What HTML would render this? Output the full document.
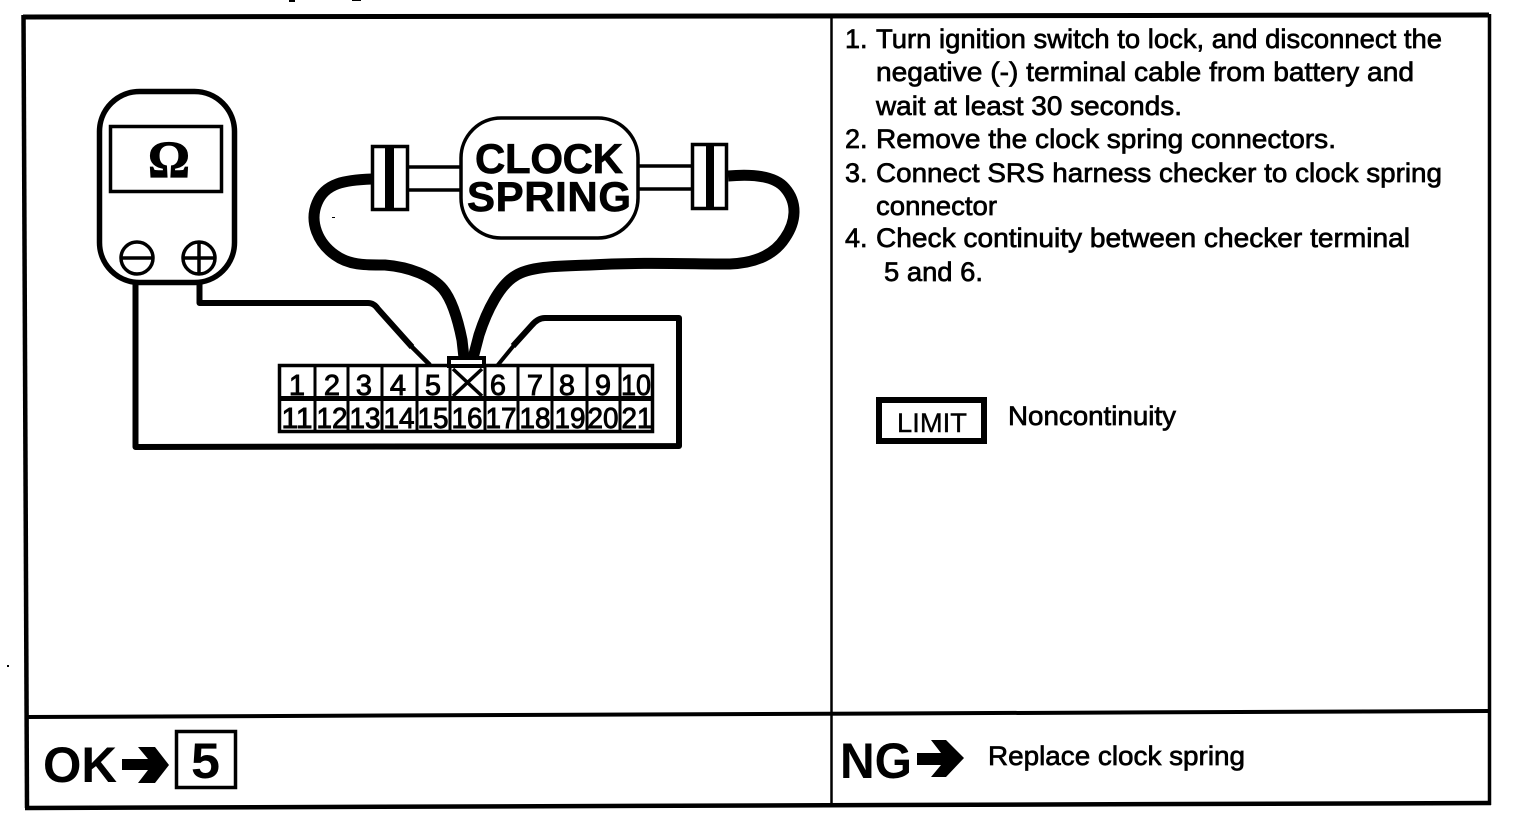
<!DOCTYPE html>
<html>
<head>
<meta charset="utf-8">
<style>
html,body{margin:0;padding:0;background:#fff;width:1536px;height:838px;overflow:hidden}
svg{display:block}
text{font-family:"Liberation Sans",sans-serif;fill:#000}
.t{font-size:27px;stroke:#000;stroke-width:.7px}
.d{font-size:29px;stroke:#000;stroke-width:.9px;text-anchor:middle}
.b{font-size:50px;font-weight:bold}
.c{font-size:42px;font-weight:bold;stroke:#000;stroke-width:.7px}
</style>
</head>
<body>
<svg width="1536" height="838" viewBox="0 0 1536 838" xmlns="http://www.w3.org/2000/svg">
<rect width="1536" height="838" fill="#fff"/>
<!-- frame -->
<g fill="none" stroke="#000">
<path d="M23 17 L1489 15" stroke-width="5"/>
<path d="M23.500 15 L27 808" stroke-width="4.500"/>
<path d="M1489.500 14 L1489.500 805" stroke-width="3.500"/>
<path d="M25 808 L1491 803" stroke-width="4.500"/>
<path d="M27 717 L1489 711" stroke-width="4"/>
<path d="M831.500 16 L831.500 806" stroke-width="2.500"/>
</g>
<!-- meter -->
<rect x="99.500" y="91.500" width="135" height="191" rx="40" ry="40" fill="none" stroke="#000" stroke-width="5.500"/>
<rect x="110.500" y="126.500" width="111" height="65" fill="none" stroke="#000" stroke-width="3.500"/>
<text x="169" y="177" font-size="52" text-anchor="middle" font-weight="bold" stroke="#000" stroke-width="1.200" style="font-family:'Liberation Serif',serif">Ω</text>
<g fill="none" stroke="#000" stroke-width="3.500">
<circle cx="137" cy="258" r="16"/>
<circle cx="199" cy="258" r="16"/>
<path d="M121 258H153M183 258H215M199 242V274"/>
</g>
<!-- thin wires -->
<g fill="none" stroke="#000" stroke-linejoin="round">
<path d="M135.500 283 L135.500 447 L679 446 L679 318 L545 318 Q538 318 532 325 L513 346" stroke-width="6"/>
<path d="M515 344 L497 366" stroke-width="4"/>
<path d="M199.500 283 L199.500 303 L368 303 Q374 303 378 309 L412 347" stroke-width="6"/>
<path d="M410 345 L430 365" stroke-width="4.500"/>
</g>
<!-- thick wires -->
<g fill="none" stroke="#000">
<path d="M372 179 C345 180 325 183 317 203 C309 222 318 243 335 255 C350 266 368 265 385 265 C410 267 432 276 443 289 C452 300 458 320 462 340 L464 358" stroke-width="11"/>
<path d="M728 176 C750 174 774 175 785 188 C798 203 796 222 785 238 C774 255 755 263 730 264 C690 264 640 262 590 265 C560 266 530 266 515 276 C500 285 487 310 479 335 L473 358" stroke-width="11"/>
</g>
<!-- terminal block -->
<g fill="none" stroke="#000">
<rect x="279.500" y="365.500" width="373" height="66" stroke-width="3.500"/>
<path d="M279 398.500H653" stroke-width="5"/>
<path d="M315 365V432M348 365V432M382 365V432M417 365V432M450 365V432M485 365V432M518 365V432M552 365V432M587 365V432M620 365V432" stroke-width="3"/>
<rect x="449" y="358" width="35" height="8" fill="#fff" stroke-width="4"/>
<path d="M453 369L482 396M482 369L453 396" stroke-width="3.500"/>
</g>
<g class="row">
<text class="d" x="297" y="395">1</text>
<text class="d" x="332" y="395">2</text>
<text class="d" x="364" y="395">3</text>
<text class="d" x="398" y="395">4</text>
<text class="d" x="433" y="395">5</text>
<text class="d" x="498" y="395">6</text>
<text class="d" x="535" y="395">7</text>
<text class="d" x="567" y="395">8</text>
<text class="d" x="603" y="395">9</text>
<text class="d" x="636" y="395" textLength="30" lengthAdjust="spacingAndGlyphs">10</text>
<text class="d" x="297" y="428" textLength="31" lengthAdjust="spacingAndGlyphs">11</text>
<text class="d" x="332" y="428" textLength="31" lengthAdjust="spacingAndGlyphs">12</text>
<text class="d" x="365" y="428" textLength="31" lengthAdjust="spacingAndGlyphs">13</text>
<text class="d" x="399" y="428" textLength="31" lengthAdjust="spacingAndGlyphs">14</text>
<text class="d" x="433" y="428" textLength="31" lengthAdjust="spacingAndGlyphs">15</text>
<text class="d" x="467" y="428" textLength="31" lengthAdjust="spacingAndGlyphs">16</text>
<text class="d" x="501" y="428" textLength="31" lengthAdjust="spacingAndGlyphs">17</text>
<text class="d" x="535" y="428" textLength="31" lengthAdjust="spacingAndGlyphs">18</text>
<text class="d" x="570" y="428" textLength="31" lengthAdjust="spacingAndGlyphs">19</text>
<text class="d" x="603" y="428" textLength="31" lengthAdjust="spacingAndGlyphs">20</text>
<text class="d" x="637" y="428" textLength="31" lengthAdjust="spacingAndGlyphs">21</text>
</g>
<!-- clock spring -->
<g fill="none" stroke="#000" stroke-width="3.500">
<path d="M407 167H461M407 190H461M638 166H692M638 189H692"/>
<rect x="461" y="118" width="177" height="120" rx="40" ry="40" fill="#fff"/>
<rect x="372.500" y="146.500" width="35" height="63" fill="#fff"/>
<rect x="692.500" y="144.500" width="34" height="64" fill="#fff"/>
</g>
<rect x="385" y="146" width="9" height="64" fill="#000"/>
<rect x="706" y="144" width="8" height="65" fill="#000"/>
<text class="c" x="475" y="173" textLength="148" lengthAdjust="spacing">CLOCK</text>
<text class="c" x="467" y="211" textLength="164" lengthAdjust="spacing">SPRING</text>
<!-- instructions -->
<g>
<text class="t" x="845" y="48">1.</text>
<text class="t" x="876" y="48" textLength="566" lengthAdjust="spacingAndGlyphs">Turn ignition switch to lock, and disconnect the</text>
<text class="t" x="876" y="81" textLength="538" lengthAdjust="spacingAndGlyphs">negative (-) terminal cable from battery and</text>
<text class="t" x="876" y="115" textLength="306" lengthAdjust="spacingAndGlyphs">wait at least 30 seconds.</text>
<text class="t" x="845" y="148">2.</text>
<text class="t" x="876" y="148" textLength="460" lengthAdjust="spacingAndGlyphs">Remove the clock spring connectors.</text>
<text class="t" x="845" y="182">3.</text>
<text class="t" x="876" y="182" textLength="566" lengthAdjust="spacingAndGlyphs">Connect SRS harness checker to clock spring</text>
<text class="t" x="876" y="215" textLength="121" lengthAdjust="spacingAndGlyphs">connector</text>
<text class="t" x="845" y="247">4.</text>
<text class="t" x="876" y="247" textLength="534" lengthAdjust="spacingAndGlyphs">Check continuity between checker terminal</text>
<text class="t" x="884" y="281" textLength="99" lengthAdjust="spacingAndGlyphs">5 and 6.</text>
</g>
<!-- limit -->
<rect x="879" y="400" width="105" height="41" fill="none" stroke="#000" stroke-width="6"/>
<text class="t" x="897" y="432" textLength="70" lengthAdjust="spacingAndGlyphs" style="stroke-width:.4px">LIMIT</text>
<text class="t" x="1008" y="425" textLength="168" lengthAdjust="spacingAndGlyphs">Noncontinuity</text>
<!-- OK -->
<text class="b" x="43" y="782" textLength="74" lengthAdjust="spacingAndGlyphs">OK</text>
<path d="M138 747H155L169 765L155 783H138L148 770H122V759H148Z" fill="#000"/>
<rect x="176.500" y="731.500" width="59" height="56" fill="none" stroke="#000" stroke-width="3.500"/>
<text class="b" x="191" y="778" textLength="29" lengthAdjust="spacingAndGlyphs">5</text>
<!-- NG -->
<text class="b" x="840" y="778" textLength="72" lengthAdjust="spacingAndGlyphs">NG</text>
<path d="M931 740H946L964 758L946 777H931L941 765H917V753H941Z" fill="#000"/>
<text class="t" x="988" y="765" textLength="257" lengthAdjust="spacingAndGlyphs">Replace clock spring</text>
<!-- scan specks -->
<g fill="#000">
<rect x="289" y="0" width="6" height="2"/>
<rect x="352" y="0" width="9" height="1"/>
<rect x="7" y="665" width="2" height="2"/>
<rect x="332" y="217" width="3" height="1"/>
</g>
</svg>
</body>
</html>
